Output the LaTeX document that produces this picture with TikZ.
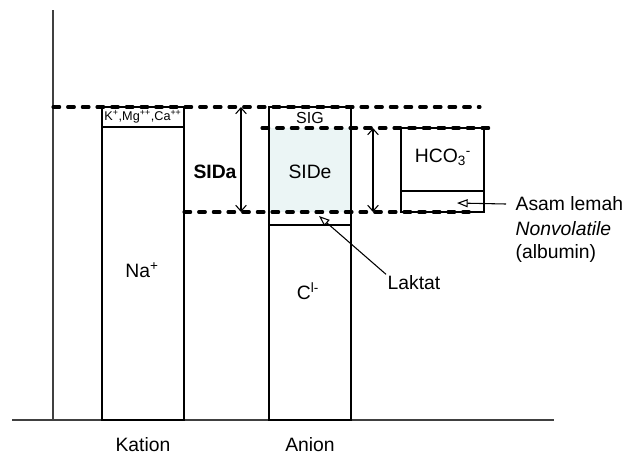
\documentclass[tikz,border=0pt]{standalone}
\usepackage{fontspec}
\setmainfont{Liberation Sans}
\usetikzlibrary{arrows.meta}
\definecolor{sidefill}{RGB}{235,245,245}
\definecolor{axisgray}{RGB}{64,64,64}
\newcommand{\bigfs}{\fontsize{14.5}{17}\selectfont}

\begin{document}
\begin{tikzpicture}[x=0.75pt, y=-0.75pt,
  lbl/.style={font=\bigfs, inner sep=1pt},
  box/.style={draw=black, line width=0.9pt},
  level/.style={line width=2.3pt, line cap=round, dash pattern=on 5pt off 6pt},
  span/.style={{Straight Barb[length=4.5pt,width=8pt]}-{Straight Barb[length=4.5pt,width=8pt]}, line width=0.8pt},
  pointer/.style={-{Triangle[open,length=8pt,width=6pt]}, line width=0.8pt}]
\useasboundingbox (0,0) rectangle (628,455);
\def\top{107}
\def\mid{128}
\def\low{212}
\def\base{420}
% axes
\draw[axisgray, line width=1.1pt] (53,10) -- (53,\base);
\draw[axisgray, line width=1.1pt] (12,\base) -- (554,\base);
% columns
\fill[sidefill] (269,\mid) rectangle (351,\low);
\draw[box] (102,\base) rectangle (184,\top);
\draw[box] (102,127) -- (184,127);
\draw[box] (269,\base) rectangle (351,\top);
\draw[box] (269,225) -- (351,225);
\draw[box] (401,\mid) rectangle (484,\low);
\draw[box] (401,191) -- (484,191);
% dashed levels
\draw[level] (53,\top) -- (480,\top);
\draw[level] (262,\mid) -- (492,\mid);
\draw[level] (184,\low) -- (470,\low);
% spans
\coordinate (sidatop) at (241,\top);
\coordinate (sidabot) at (241,\low);
\coordinate (sidetop) at (373,\mid);
\coordinate (sidebot) at (373,\low);
\draw[span] (sidatop) -- (sidabot);
\draw[span] (sidetop) -- (sidebot);
% labels
\node[font=\fontsize{9.5}{10}\selectfont, inner sep=1pt] (kmgca) at (143,117) {K\textsuperscript{+},Mg\textsuperscript{++},Ca\textsuperscript{++}};
\node[lbl, font=\bigfs\bfseries] (sida) at (215,172) {SIDa};
\node[font=\fontsize{12}{14}\selectfont, inner sep=1pt] (sig) at (310,118) {SIG};
\node[lbl] (side) at (310,172) {SIDe};
\node[lbl] (hco) at (443,157) {HCO\textsubscript{3}\textsuperscript{-}};
\node[lbl] (na) at (142,270) {Na\textsuperscript{+}};
\node[lbl] (cl) at (308,291) {C\textsuperscript{l-}};
\node[lbl, anchor=west] (laktat) at (386,283) {Laktat};
\node[lbl, anchor=west] (asam) at (514,204) {Asam lemah};
\node[lbl, anchor=west, font=\bigfs\itshape] (nonvol) at (514,229) {Nonvolatile};
\node[lbl, anchor=west] (albumin) at (514,253) {(albumin)};
\node[lbl] (kation) at (143,445) {Kation};
\node[lbl] (anion) at (310,445) {Anion};
% pointers
\coordinate (laktattip) at (319,216);
\coordinate (asamtip) at (457,203);
\draw[pointer] (laktat.north west) -- (laktattip);
\draw[pointer] ([xshift=-6pt]asam.west) -- (asamtip);
\end{tikzpicture}
\end{document}
